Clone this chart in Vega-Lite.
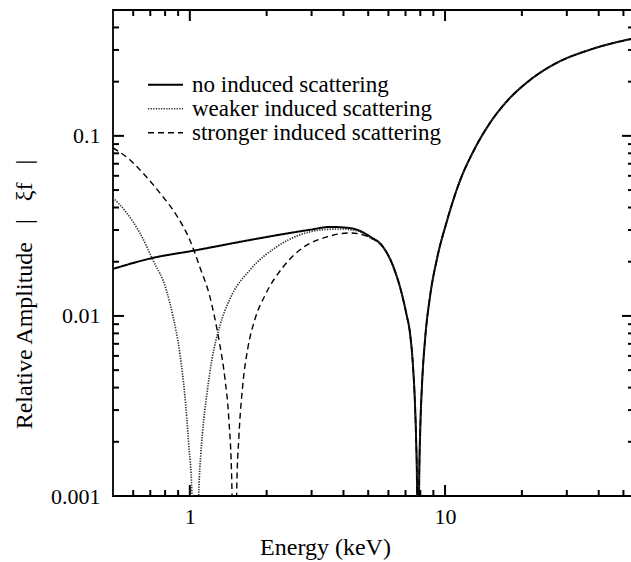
{
  "$schema": "https://vega.github.io/schema/vega-lite/v6.json",
  "autosize": "none",
  "width": 523,
  "height": 486,
  "padding": {"left": 113, "top": 10, "right": 0, "bottom": 66},
  "background": "white",
  "config": {
    "view": {"stroke": "black", "strokeWidth": 1.8},
    "axis": {
      "domain": false, "grid": false, "ticks": false,
      "labelFont": "Liberation Serif", "labelFontSize": 22, "labelColor": "black",
      "titleFont": "Liberation Serif", "titleFontSize": 24, "titleFontWeight": "normal", "titleColor": "black",
      "labelFlush": false, "labelOverlap": false
    }
  },
  "datasets": {
    "curves": [
      {"series": "no induced scattering", "E": 0.5, "A": 0.01824},
      {"series": "no induced scattering", "E": 0.716, "A": 0.0210},
      {"series": "no induced scattering", "E": 1.027, "A": 0.0230},
      {"series": "no induced scattering", "E": 1.72, "A": 0.0264},
      {"series": "no induced scattering", "E": 2.3, "A": 0.0284},
      {"series": "no induced scattering", "E": 2.96, "A": 0.0301},
      {"series": "no induced scattering", "E": 3.54, "A": 0.0312},
      {"series": "no induced scattering", "E": 4.0, "A": 0.0310},
      {"series": "no induced scattering", "E": 4.52, "A": 0.0301},
      {"series": "no induced scattering", "E": 5.08, "A": 0.0276},
      {"series": "no induced scattering", "E": 5.71, "A": 0.0242},
      {"series": "no induced scattering", "E": 6.25, "A": 0.0190},
      {"series": "no induced scattering", "E": 6.84, "A": 0.0125},
      {"series": "no induced scattering", "E": 7.05, "A": 0.0103},
      {"series": "no induced scattering", "E": 7.29, "A": 0.0080},
      {"series": "no induced scattering", "E": 7.49, "A": 0.00525},
      {"series": "no induced scattering", "E": 7.63, "A": 0.00315},
      {"series": "no induced scattering", "E": 7.70, "A": 0.0021},
      {"series": "no induced scattering", "E": 7.77, "A": 0.00105},
      {"series": "no induced scattering", "E": 7.84, "A": 0.0001},
      {"series": "no induced scattering", "E": 7.91, "A": 0.00105},
      {"series": "no induced scattering", "E": 8.0, "A": 0.0024},
      {"series": "no induced scattering", "E": 8.12, "A": 0.0041},
      {"series": "no induced scattering", "E": 8.35, "A": 0.0074},
      {"series": "no induced scattering", "E": 8.73, "A": 0.0128},
      {"series": "no induced scattering", "E": 9.30, "A": 0.0208},
      {"series": "no induced scattering", "E": 10.18, "A": 0.0338},
      {"series": "no induced scattering", "E": 11.45, "A": 0.0565},
      {"series": "no induced scattering", "E": 12.88, "A": 0.0815},
      {"series": "no induced scattering", "E": 15.0, "A": 0.118},
      {"series": "no induced scattering", "E": 17.5, "A": 0.156},
      {"series": "no induced scattering", "E": 21.5, "A": 0.204},
      {"series": "no induced scattering", "E": 27.5, "A": 0.255},
      {"series": "no induced scattering", "E": 37.0, "A": 0.301},
      {"series": "no induced scattering", "E": 56.0, "A": 0.35},

      {"series": "weaker induced scattering", "E": 0.5, "A": 0.0453},
      {"series": "weaker induced scattering", "E": 0.566, "A": 0.0373},
      {"series": "weaker induced scattering", "E": 0.637, "A": 0.0289},
      {"series": "weaker induced scattering", "E": 0.716, "A": 0.0205},
      {"series": "weaker induced scattering", "E": 0.812, "A": 0.0137},
      {"series": "weaker induced scattering", "E": 0.858, "A": 0.0100},
      {"series": "weaker induced scattering", "E": 0.914, "A": 0.0062},
      {"series": "weaker induced scattering", "E": 0.956, "A": 0.0036},
      {"series": "weaker induced scattering", "E": 0.991, "A": 0.0019},
      {"series": "weaker induced scattering", "E": 1.018, "A": 0.00105},
      {"series": "weaker induced scattering", "E": 1.051, "A": 0.0001},
      {"series": "weaker induced scattering", "E": 1.085, "A": 0.00109},
      {"series": "weaker induced scattering", "E": 1.104, "A": 0.0017},
      {"series": "weaker induced scattering", "E": 1.135, "A": 0.00269},
      {"series": "weaker induced scattering", "E": 1.166, "A": 0.00368},
      {"series": "weaker induced scattering", "E": 1.220, "A": 0.0057},
      {"series": "weaker induced scattering", "E": 1.311, "A": 0.0088},
      {"series": "weaker induced scattering", "E": 1.435, "A": 0.0124},
      {"series": "weaker induced scattering", "E": 1.72, "A": 0.0180},
      {"series": "weaker induced scattering", "E": 2.19, "A": 0.0242},
      {"series": "weaker induced scattering", "E": 2.70, "A": 0.0282},
      {"series": "weaker induced scattering", "E": 3.32, "A": 0.0301},
      {"series": "weaker induced scattering", "E": 3.88, "A": 0.0304},
      {"series": "weaker induced scattering", "E": 4.52, "A": 0.0297},
      {"series": "weaker induced scattering", "E": 5.08, "A": 0.0272},
      {"series": "weaker induced scattering", "E": 5.71, "A": 0.0242},
      {"series": "weaker induced scattering", "E": 6.25, "A": 0.0190},
      {"series": "weaker induced scattering", "E": 6.84, "A": 0.0125},
      {"series": "weaker induced scattering", "E": 7.05, "A": 0.0103},
      {"series": "weaker induced scattering", "E": 7.29, "A": 0.0080},
      {"series": "weaker induced scattering", "E": 7.49, "A": 0.00525},
      {"series": "weaker induced scattering", "E": 7.63, "A": 0.00315},
      {"series": "weaker induced scattering", "E": 7.70, "A": 0.0021},
      {"series": "weaker induced scattering", "E": 7.77, "A": 0.00105},
      {"series": "weaker induced scattering", "E": 7.84, "A": 0.0001},
      {"series": "weaker induced scattering", "E": 7.91, "A": 0.00105},
      {"series": "weaker induced scattering", "E": 8.0, "A": 0.0024},
      {"series": "weaker induced scattering", "E": 8.12, "A": 0.0041},
      {"series": "weaker induced scattering", "E": 8.35, "A": 0.0074},
      {"series": "weaker induced scattering", "E": 8.73, "A": 0.0128},
      {"series": "weaker induced scattering", "E": 9.30, "A": 0.0208},
      {"series": "weaker induced scattering", "E": 10.18, "A": 0.0338},
      {"series": "weaker induced scattering", "E": 11.45, "A": 0.0565},
      {"series": "weaker induced scattering", "E": 12.88, "A": 0.0815},
      {"series": "weaker induced scattering", "E": 15.0, "A": 0.118},
      {"series": "weaker induced scattering", "E": 17.5, "A": 0.156},
      {"series": "weaker induced scattering", "E": 21.5, "A": 0.204},
      {"series": "weaker induced scattering", "E": 27.5, "A": 0.255},
      {"series": "weaker induced scattering", "E": 37.0, "A": 0.301},
      {"series": "weaker induced scattering", "E": 56.0, "A": 0.35},

      {"series": "stronger induced scattering", "E": 0.5, "A": 0.0858},
      {"series": "stronger induced scattering", "E": 0.582, "A": 0.0736},
      {"series": "stronger induced scattering", "E": 0.654, "A": 0.0623},
      {"series": "stronger induced scattering", "E": 0.763, "A": 0.0482},
      {"series": "stronger induced scattering", "E": 0.889, "A": 0.0360},
      {"series": "stronger induced scattering", "E": 1.0, "A": 0.0264},
      {"series": "stronger induced scattering", "E": 1.094, "A": 0.0187},
      {"series": "stronger induced scattering", "E": 1.198, "A": 0.0128},
      {"series": "stronger induced scattering", "E": 1.253, "A": 0.0097},
      {"series": "stronger induced scattering", "E": 1.311, "A": 0.0069},
      {"series": "stronger induced scattering", "E": 1.371, "A": 0.00455},
      {"series": "stronger induced scattering", "E": 1.422, "A": 0.00266},
      {"series": "stronger induced scattering", "E": 1.461, "A": 0.00115},
      {"series": "stronger induced scattering", "E": 1.494, "A": 0.0001},
      {"series": "stronger induced scattering", "E": 1.528, "A": 0.00115},
      {"series": "stronger induced scattering", "E": 1.556, "A": 0.0021},
      {"series": "stronger induced scattering", "E": 1.614, "A": 0.0042},
      {"series": "stronger induced scattering", "E": 1.687, "A": 0.0066},
      {"series": "stronger induced scattering", "E": 1.80, "A": 0.0096},
      {"series": "stronger induced scattering", "E": 1.97, "A": 0.0130},
      {"series": "stronger induced scattering", "E": 2.32, "A": 0.0187},
      {"series": "stronger induced scattering", "E": 2.77, "A": 0.0239},
      {"series": "stronger induced scattering", "E": 3.45, "A": 0.0275},
      {"series": "stronger induced scattering", "E": 4.24, "A": 0.0289},
      {"series": "stronger induced scattering", "E": 4.77, "A": 0.0282},
      {"series": "stronger induced scattering", "E": 5.31, "A": 0.0264},
      {"series": "stronger induced scattering", "E": 5.71, "A": 0.0242},
      {"series": "stronger induced scattering", "E": 6.25, "A": 0.0190},
      {"series": "stronger induced scattering", "E": 6.84, "A": 0.0125},
      {"series": "stronger induced scattering", "E": 7.05, "A": 0.0103},
      {"series": "stronger induced scattering", "E": 7.29, "A": 0.0080},
      {"series": "stronger induced scattering", "E": 7.49, "A": 0.00525},
      {"series": "stronger induced scattering", "E": 7.63, "A": 0.00315},
      {"series": "stronger induced scattering", "E": 7.70, "A": 0.0021},
      {"series": "stronger induced scattering", "E": 7.77, "A": 0.00105},
      {"series": "stronger induced scattering", "E": 7.84, "A": 0.0001},
      {"series": "stronger induced scattering", "E": 7.91, "A": 0.00105},
      {"series": "stronger induced scattering", "E": 8.0, "A": 0.0024},
      {"series": "stronger induced scattering", "E": 8.12, "A": 0.0041},
      {"series": "stronger induced scattering", "E": 8.35, "A": 0.0074},
      {"series": "stronger induced scattering", "E": 8.73, "A": 0.0128},
      {"series": "stronger induced scattering", "E": 9.30, "A": 0.0208},
      {"series": "stronger induced scattering", "E": 10.18, "A": 0.0338},
      {"series": "stronger induced scattering", "E": 11.45, "A": 0.0565},
      {"series": "stronger induced scattering", "E": 12.88, "A": 0.0815},
      {"series": "stronger induced scattering", "E": 15.0, "A": 0.118},
      {"series": "stronger induced scattering", "E": 17.5, "A": 0.156},
      {"series": "stronger induced scattering", "E": 21.5, "A": 0.204},
      {"series": "stronger induced scattering", "E": 27.5, "A": 0.255},
      {"series": "stronger induced scattering", "E": 37.0, "A": 0.301},
      {"series": "stronger induced scattering", "E": 56.0, "A": 0.35}
    ],
    "xticks": [
      {"v": 0.6, "major": false}, {"v": 0.7, "major": false}, {"v": 0.8, "major": false}, {"v": 0.9, "major": false},
      {"v": 1, "major": true},
      {"v": 2, "major": false}, {"v": 3, "major": false}, {"v": 4, "major": false}, {"v": 5, "major": false},
      {"v": 6, "major": false}, {"v": 7, "major": false}, {"v": 8, "major": false}, {"v": 9, "major": false},
      {"v": 10, "major": true},
      {"v": 20, "major": false}, {"v": 30, "major": false}, {"v": 40, "major": false}, {"v": 50, "major": false}
    ],
    "yticks": [
      {"v": 0.002, "major": false}, {"v": 0.003, "major": false}, {"v": 0.004, "major": false}, {"v": 0.005, "major": false},
      {"v": 0.006, "major": false}, {"v": 0.007, "major": false}, {"v": 0.008, "major": false}, {"v": 0.009, "major": false},
      {"v": 0.01, "major": true},
      {"v": 0.02, "major": false}, {"v": 0.03, "major": false}, {"v": 0.04, "major": false}, {"v": 0.05, "major": false},
      {"v": 0.06, "major": false}, {"v": 0.07, "major": false}, {"v": 0.08, "major": false}, {"v": 0.09, "major": false},
      {"v": 0.1, "major": true},
      {"v": 0.2, "major": false}, {"v": 0.3, "major": false}, {"v": 0.4, "major": false}
    ]
  },
  "resolve": {"axis": {"x": "independent", "y": "independent"}},
  "layer": [
    {
      "data": {"name": "curves"},
      "mark": {"type": "line", "clip": true, "interpolate": "monotone"},
      "encoding": {
        "x": {
          "field": "E", "type": "quantitative",
          "scale": {"type": "log", "domain": [0.5, 56], "nice": false},
          "axis": {
            "orient": "bottom", "title": "Energy (keV)", "titleX": 212,
            "values": [1, 10],
            "labelExpr": "datum.value == 1 ? '1' : '10'",
            "labelPadding": 10, "titlePadding": 8
          }
        },
        "y": {
          "field": "A", "type": "quantitative",
          "scale": {"type": "log", "domain": [0.001, 0.5], "nice": false},
          "axis": {
            "orient": "left", "title": "Relative Amplitude\u00a0\u00a0\u00a0|\u00a0\u00a0\u00a0ξf\u00a0\u00a0\u00a0|",
            "titleY": 284,
            "values": [0.001, 0.01, 0.1],
            "labelExpr": "datum.value == 0.1 ? '0.1' : datum.value == 0.01 ? '0.01' : '0.001'",
            "labelPadding": 13, "titlePadding": 14
          }
        },
        "strokeDash": {
          "field": "series", "type": "nominal",
          "scale": {"domain": ["no induced scattering", "weaker induced scattering", "stronger induced scattering"], "range": [[1, 0], [1.3, 1.3], [6, 4]]},
          "legend": {
            "orient": "none", "legendX": 34, "legendY": 63, "title": null,
            "symbolType": "stroke", "symbolSize": 1225, "labelOffset": 8,
            "labelFont": "Liberation Serif", "labelFontSize": 23, "labelColor": "black",
            "padding": 0, "rowPadding": 0, "clipHeight": 23.5, "labelLimit": 400
          }
        },
        "color": {
          "field": "series", "type": "nominal",
          "scale": {"domain": ["no induced scattering", "weaker induced scattering", "stronger induced scattering"], "range": ["black", "#333333", "black"]}
        },
        "strokeWidth": {
          "field": "series", "type": "nominal",
          "scale": {"domain": ["no induced scattering", "weaker induced scattering", "stronger induced scattering"], "range": [2, 1.4, 2]}
        }
      }
    },
    {
      "data": {"name": "xticks"},
      "mark": {"type": "tick", "orient": "vertical", "clip": true, "color": "black", "opacity": 1, "thickness": 2},
      "encoding": {
        "x": {"field": "v", "type": "quantitative", "scale": {"type": "log", "domain": [0.5, 56], "nice": false}, "axis": null},
        "y": {"datum": 0.001, "type": "quantitative", "scale": {"type": "log", "domain": [0.001, 0.5], "nice": false}, "axis": null},
        "size": {"condition": {"test": "datum.major", "value": 22}, "value": 12}
      }
    },
    {
      "data": {"name": "xticks"},
      "mark": {"type": "tick", "orient": "vertical", "clip": true, "color": "black", "opacity": 1, "thickness": 2},
      "encoding": {
        "x": {"field": "v", "type": "quantitative", "scale": {"type": "log", "domain": [0.5, 56], "nice": false}, "axis": null},
        "y": {"datum": 0.5, "type": "quantitative", "scale": {"type": "log", "domain": [0.001, 0.5], "nice": false}, "axis": null},
        "size": {"condition": {"test": "datum.major", "value": 22}, "value": 12}
      }
    },
    {
      "data": {"name": "yticks"},
      "mark": {"type": "tick", "orient": "horizontal", "clip": true, "color": "black", "opacity": 1, "thickness": 2},
      "encoding": {
        "y": {"field": "v", "type": "quantitative", "scale": {"type": "log", "domain": [0.001, 0.5], "nice": false}, "axis": null},
        "x": {"datum": 0.5, "type": "quantitative", "scale": {"type": "log", "domain": [0.5, 56], "nice": false}, "axis": null},
        "size": {"condition": {"test": "datum.major", "value": 22}, "value": 12}
      }
    },
    {
      "data": {"name": "yticks"},
      "mark": {"type": "tick", "orient": "horizontal", "clip": true, "color": "black", "opacity": 1, "thickness": 2},
      "encoding": {
        "y": {"field": "v", "type": "quantitative", "scale": {"type": "log", "domain": [0.001, 0.5], "nice": false}, "axis": null},
        "x": {"datum": 56, "type": "quantitative", "scale": {"type": "log", "domain": [0.5, 56], "nice": false}, "axis": null},
        "size": {"condition": {"test": "datum.major", "value": 28}, "value": 16}
      }
    }
  ]
}
